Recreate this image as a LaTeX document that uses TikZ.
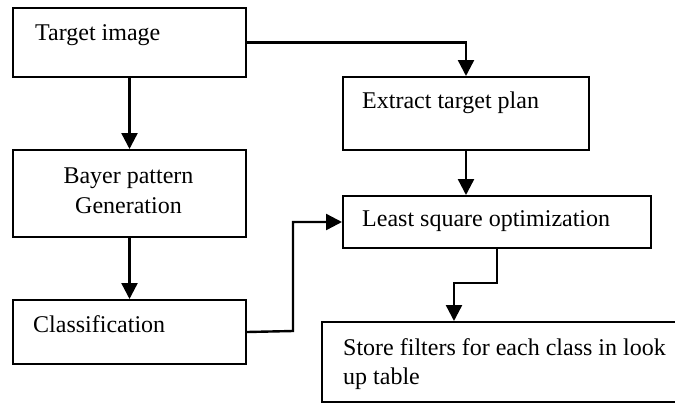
\documentclass[tikz,border=0pt]{standalone}
\usepackage{fontspec}
\setmainfont{Liberation Serif}
\usetikzlibrary{arrows.meta}
\begin{document}
\begin{tikzpicture}[x=1pt,y=-1pt,
  box/.style={draw, line width=2pt, inner sep=0pt, anchor=north west},
  arr/.style={line width=2.4pt, -{Triangle[width=16pt,length=16pt]}},
  lbl/.style={font=\fontsize{24}{30}\selectfont, inner sep=0pt, anchor=base west},
  clbl/.style={lbl, anchor=base}]
\clip (0,0) rectangle (675,405);
% boxes
\node[box, minimum width=233pt, minimum height=69pt] (timg) at (12,7) {};
\node[box, minimum width=233pt, minimum height=87pt] (bayer) at (12,149) {};
\node[box, minimum width=233pt, minimum height=64pt] (class) at (12,299) {};
\node[box, minimum width=246pt, minimum height=73pt] (extract) at (342,76) {};
\node[box, minimum width=308pt, minimum height=52pt] (lsq) at (342,195) {};
\node[box, minimum width=400pt, minimum height=80pt] (store) at (321,321) {};
% texts
\node[lbl] (ttimg) at (35,40) {Target image};
\node[clbl] (tbay1) at (128.5,183) {Bayer pattern};
\node[clbl] (tbay2) at (128.5,213) {Generation};
\node[lbl] (tclass) at (33,332) {Classification};
\node[lbl] (text) at (362,108) {Extract target plan};
\node[lbl] (tlsq) at (362,226) {Least square optimization};
\node[lbl] (tst1) at (343,355) {Store filters for each class in look};
\node[lbl] (tst2) at (343,384) {up table};
% connectors
\coordinate (classbend) at (293,331);
\coordinate (bend) at (497,283);
\coordinate (storein) at (454,321);
\draw[arr] (timg.south) -- (bayer.north);
\draw[arr] (bayer.south) -- (class.north);
\draw[arr] (timg.east) -| (extract.north);
\draw[arr] (extract.south) -- (extract.south |- lsq.north);
\draw[arr] (class.east) -- (classbend) |- (lsq.west);
\draw[arr] (lsq.south) -- (bend) -| (storein);
\end{tikzpicture}
\end{document}
